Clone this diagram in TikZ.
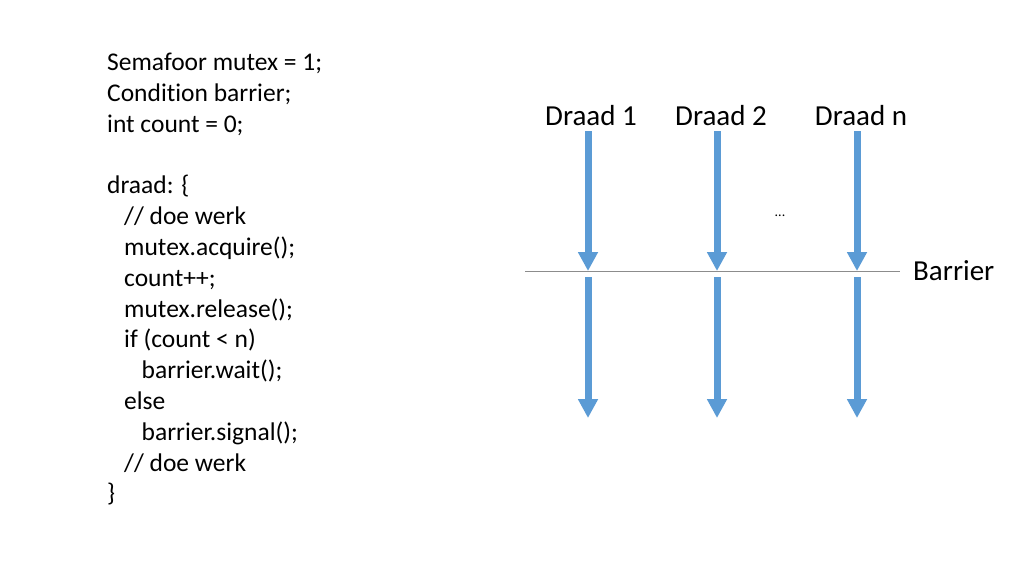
\documentclass[tikz,border=0pt]{standalone}
\usepackage{fontspec}
\setmainfont[Ligatures={NoCommon}]{Carlito}
\usetikzlibrary{arrows.meta}
\definecolor{arrowblue}{HTML}{5B9BD5}
\definecolor{barriergray}{HTML}{8C8C8C}
\tikzset{
  codeline/.style={anchor=base west, inner sep=0pt, font=\fontsize{25.5}{30.8}\selectfont},
  label/.style={anchor=base, inner sep=0pt, font=\fontsize{29}{34}\selectfont},
  thread/.style={draw=arrowblue, line width=7pt, -{Triangle[width=19pt,length=19pt]}}
}
\begin{document}
\begin{tikzpicture}[x=1pt,y=-1pt]
\useasboundingbox (0,0) rectangle (1024,576);
% code
\node[codeline] (l1) at (107,70.7) {Semafoor mutex = 1;};
\node[codeline] (l2) at (107,101.5) {Condition barrier;};
\node[codeline] (l3) at (107,132.3) {int count = 0;};
\node[codeline] (l5) at (107,193.9) {draad: \{};
\node[codeline] (l6) at (124,224.7) {// doe werk};
\node[codeline] (l7) at (124,255.5) {mutex.acquire();};
\node[codeline] (l8) at (124,286.3) {count++;};
\node[codeline] (l9) at (124,317.1) {mutex.release();};
\node[codeline] (l10) at (124,347.9) {if (count < n)};
\node[codeline] (l11) at (141.5,378.7) {barrier.wait();};
\node[codeline] (l12) at (124,409.5) {else};
\node[codeline] (l13) at (141.5,440.3) {barrier.signal();};
\node[codeline] (l14) at (124,471.1) {// doe werk};
\node[codeline] (l15) at (107,501.9) {\}};
% thread labels
\node[label] (d1) at (591,125) {Draad 1};
\node[label] (d2) at (721,125) {Draad 2};
\node[label] (dn) at (861,125) {Draad n};
\node[label, anchor=base west] (bar) at (913,280.7) {Barrier};
\node[anchor=base, inner sep=0pt, font=\fontsize{14}{16}\selectfont] (dots) at (780,216) {...};
% barrier line
\coordinate (bl) at (525,271.5);
\coordinate (br) at (900,271.5);
\draw[barriergray, line width=1pt] (bl) -- (br);
% arrows
\coordinate (a1s) at (588,131); \coordinate (a1m) at (588,271);
\coordinate (a1r) at (588,277); \coordinate (a1e) at (588,418);
\coordinate (a2s) at (717,131); \coordinate (a2m) at (717,271);
\coordinate (a2r) at (717,277); \coordinate (a2e) at (717,418);
\coordinate (a3s) at (857,131); \coordinate (a3m) at (857,271);
\coordinate (a3r) at (857,277); \coordinate (a3e) at (857,418);
\draw[thread] (a1s) -- (a1m);
\draw[thread] (a1r) -- (a1e);
\draw[thread] (a2s) -- (a2m);
\draw[thread] (a2r) -- (a2e);
\draw[thread] (a3s) -- (a3m);
\draw[thread] (a3r) -- (a3e);
\end{tikzpicture}
\end{document}
